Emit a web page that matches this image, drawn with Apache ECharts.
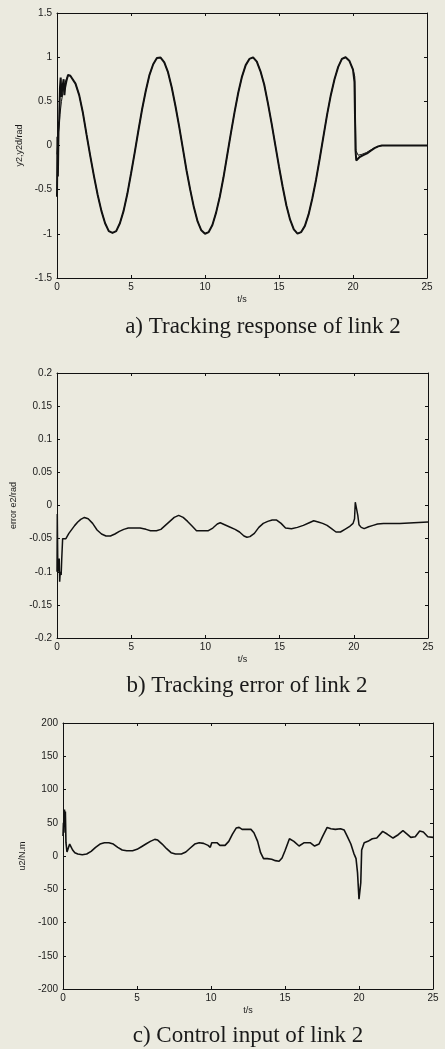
<!DOCTYPE html>
<html>
<head>
<meta charset="utf-8">
<script src="https://cdn.jsdelivr.net/npm/echarts@6/dist/echarts.min.js"></script>
<style>
  html, body { margin: 0; padding: 0; background: #ebeadf; }
  #chart { width: 445px; height: 1049px; }
</style>
</head>
<body>
<div id="chart"></div>
<script>
// ---- Link 2 simulation results (t in seconds) ----

// Shared periodic part of the response, sampled every 0.25 s from t = 1.0 to t = 20.0
const bodyY = [
  0.77, 0.70, 0.57, 0.37, 0.12, -0.12, -0.35, -0.56, -0.74, -0.88, -0.97, -0.99, -0.97,
  -0.88, -0.74, -0.55, -0.32, -0.08, 0.17, 0.41, 0.62, 0.80, 0.92, 0.99, 0.995,
  0.94, 0.83, 0.66, 0.45, 0.22, -0.03, -0.28, -0.50, -0.70, -0.86, -0.96, -0.999,
  -0.98, -0.90, -0.76, -0.58, -0.36, -0.11, 0.14, 0.38, 0.60, 0.78, 0.91, 0.98,
  0.998, 0.95, 0.84, 0.69, 0.48, 0.25, 0.005, -0.24, -0.47, -0.68, -0.84, -0.95,
  -0.997, -0.98, -0.91, -0.78, -0.60, -0.39, -0.15, 0.10, 0.35, 0.57, 0.75, 0.89,
  0.98, 0.999, 0.96, 0.86
];
const bodyT = bodyY.map((_, i) => 1 + i * 0.25);

// Actual output y2: start-up transient and settling after t = 20 s
const y2StartT = [0, 0.03, 0.06, 0.1, 0.15, 0.2, 0.25, 0.3, 0.35, 0.4, 0.45, 0.5, 0.55, 0.65, 0.75, 0.9];
const y2StartV = [-0.58, 0.1, -0.35, 0.15, 0.3, 0.65, 0.77, 0.55, 0.64, 0.66, 0.75, 0.57, 0.66, 0.74, 0.8, 0.79];
const y2EndT = [20.1, 20.17, 20.22, 20.3, 20.45, 20.7, 20.95, 21.2, 21.45, 21.7, 21.95, 25];
const y2EndV = [0.72, -0.05, -0.17, -0.17, -0.13, -0.11, -0.09, -0.06, -0.03, -0.01, 0, 0];

// Desired trajectory y2d
const y2dStartT = [0, 0.1, 0.2, 0.3, 0.45, 0.6, 0.75, 0.9];
const y2dStartV = [-0.1, 0.15, 0.35, 0.5, 0.65, 0.74, 0.79, 0.79];
const y2dEndT = [20.12, 20.2, 20.35, 20.6, 20.9, 21.2, 21.5, 21.8, 22.0, 25];
const y2dEndV = [0.78, -0.06, -0.11, -0.10, -0.08, -0.05, -0.025, -0.005, 0, 0];

// Tracking error e2
const errT = [0, 0.02, 0.05, 0.1, 0.15, 0.18, 0.22, 0.28, 0.32, 0.38, 0.45, 0.6, 0.8, 1.0, 1.2, 1.4, 1.6, 1.85,
  2.1, 2.4, 2.7, 3.0, 3.3, 3.6, 3.9, 4.2, 4.5, 4.8, 5.2, 5.6, 6.0, 6.3, 6.7, 7.0, 7.3, 7.6, 7.9, 8.2, 8.5,
  8.8, 9.1, 9.4, 9.8, 10.2, 10.5, 10.8, 11.0, 11.3, 11.6, 12.0, 12.3, 12.6, 12.8, 13.0, 13.3, 13.6, 13.9,
  14.2, 14.5, 14.8, 15.1, 15.4, 15.8, 16.2, 16.6, 17.0, 17.3, 17.6, 17.9, 18.2, 18.5, 18.8, 19.1, 19.4,
  19.7, 19.95, 20.05, 20.1, 20.15, 20.22, 20.27, 20.35, 20.5, 20.7, 21.0, 21.3, 21.6, 22.0, 23.1, 23.2, 25];
const errV = [-0.1, -0.013, -0.08, -0.1, -0.08, -0.115, -0.1, -0.105, -0.08, -0.05, -0.052, -0.05, -0.042,
  -0.036, -0.03, -0.025, -0.021, -0.018, -0.02, -0.027, -0.037, -0.043, -0.046, -0.046, -0.043, -0.039,
  -0.036, -0.034, -0.034, -0.034, -0.036, -0.038, -0.038, -0.036, -0.03, -0.024, -0.018, -0.015, -0.018,
  -0.024, -0.031, -0.038, -0.038, -0.038, -0.034, -0.028, -0.026, -0.029, -0.032, -0.036, -0.04, -0.046,
  -0.048, -0.047, -0.042, -0.033, -0.027, -0.024, -0.022, -0.022, -0.027, -0.034, -0.035, -0.033, -0.03,
  -0.026, -0.023, -0.025, -0.027, -0.03, -0.035, -0.04, -0.04, -0.036, -0.032, -0.027, -0.02, 0.005,
  0.006, 0.004, -0.015, -0.029, -0.033, -0.035, -0.032, -0.03, -0.028, -0.027, -0.027, -0.025, -0.025];

// Control input u2 (N.m)
const uT = [0, 0.03, 0.06, 0.1, 0.13, 0.16, 0.2, 0.27, 0.33, 0.38, 0.45, 0.55, 0.65, 0.8, 1.0, 1.3, 1.6, 1.9,
  2.2, 2.5, 2.8, 3.1, 3.4, 3.7, 4.0, 4.3, 4.7, 5.0, 5.3, 5.6, 5.9, 6.2, 6.4, 6.7, 7.0, 7.3, 7.6, 8.0, 8.3,
  8.6, 8.9, 9.2, 9.5, 9.8, 9.95, 10.05, 10.4, 10.6, 10.95, 11.2, 11.45, 11.7, 11.9, 12.1, 12.4, 12.7, 12.9,
  13.15, 13.35, 13.55, 13.8, 14.1, 14.35, 14.6, 14.8, 15.0, 15.3, 15.6, 15.95, 16.3, 16.7, 17.0, 17.3,
  17.55, 17.85, 18.1, 18.4, 18.75, 19.0, 19.2, 19.45, 19.65, 19.8, 19.9, 20.0, 20.08, 20.12, 20.18, 20.35,
  20.6, 20.9, 21.2, 21.6, 21.9, 22.3, 22.65, 22.97, 23.25, 23.5, 23.8, 24.1, 24.35, 24.65, 25];
const uV = [30, 50, 35, 70, 55, 67, 20, 6, 4, 8, 18, 17, 9, 5, 3, 2, 3, 7, 13, 18, 20, 20, 18, 13, 9, 8, 8,
  10, 14, 18, 22, 25, 24, 18, 11, 5, 3, 3, 6, 12, 18, 20, 19, 16, 13, 20, 20, 16, 16, 22, 33, 42, 43, 40,
  40, 40, 35, 22, 5, -4, -4, -5, -7, -8, -3, 8, 26, 22, 15, 20, 20, 15, 18, 30, 43, 41, 40, 41, 39, 30, 18,
  4, -4, -25, -65, -62, -40, 9, 20, 22, 26, 27, 37, 33, 27, 32, 38, 33, 28, 29, 37.5, 36, 29, 28];

// Axis tick settings and labels
const tRange = [0, 25], tStep = 5;
const yRanges = [[-1.5, 1.5], [-0.2, 0.2], [-200, 200]];
const ySteps = [0.5, 0.05, 50];
const yNames = ['y2,y2d/rad', 'error e2/rad', 'u2/N.m'];
const xName = 't/s';
const captions = ['a) Tracking response of link 2', 'b) Tracking error of link 2', 'c) Control input of link 2'];

function zip(ts, vs) { return ts.map((t, i) => [t, vs[i]]); }

const y2Data = zip(y2StartT, y2StartV).concat(zip(bodyT, bodyY), zip(y2EndT, y2EndV));
const y2dData = zip(y2dStartT, y2dStartV).concat(zip(bodyT, bodyY), zip(y2dEndT, y2dEndV));
const errData = zip(errT, errV);
const uData = zip(uT, uV);

const INK = '#111';
const tickFont = { fontFamily: 'Liberation Sans, Arial, sans-serif', fontSize: 10, color: '#1a1a1a' };

const gridBoxes = [
  { left: 57, right: 18, top: 13, height: 265 },
  { left: 57, right: 17, top: 373, height: 265 },
  { left: 63, right: 12, top: 723, height: 266 }
];
const yNameGaps = [28, 36, 32];

const xAxes = [], yAxes = [];
gridBoxes.forEach((g, i) => {
  const lineStyle = { axisLine: { show: true, onZero: false, lineStyle: { color: INK, width: 1 } },
                      axisTick: { show: true, inside: true, length: 3, lineStyle: { color: INK } },
                      splitLine: { show: false } };
  xAxes.push(Object.assign({
    type: 'value', gridIndex: i, position: 'bottom', min: tRange[0], max: tRange[1], interval: tStep,
    name: xName, nameLocation: 'middle', nameGap: 17,
    nameTextStyle: { fontFamily: tickFont.fontFamily, fontSize: 9, color: '#1a1a1a' },
    axisLabel: Object.assign({ margin: 4, showMinLabel: true, showMaxLabel: true }, tickFont)
  }, lineStyle));
  xAxes.push(Object.assign({
    type: 'value', gridIndex: i, position: 'top', min: tRange[0], max: tRange[1], interval: tStep,
    axisLabel: { show: false }
  }, lineStyle));
  yAxes.push(Object.assign({
    type: 'value', gridIndex: i, position: 'left', min: yRanges[i][0], max: yRanges[i][1], interval: ySteps[i],
    name: yNames[i], nameLocation: 'middle', nameGap: yNameGaps[i], nameRotate: 90,
    nameTextStyle: { fontFamily: tickFont.fontFamily, fontSize: 9, color: '#1a1a1a' },
    axisLabel: Object.assign({ margin: 5, showMinLabel: true, showMaxLabel: true }, tickFont)
  }, lineStyle));
  yAxes.push(Object.assign({
    type: 'value', gridIndex: i, position: 'right', min: yRanges[i][0], max: yRanges[i][1], interval: ySteps[i],
    axisLabel: { show: false }
  }, lineStyle));
});

function curve(name, data, grid, width) {
  return {
    name, type: 'line', data, xAxisIndex: grid * 2, yAxisIndex: grid * 2,
    showSymbol: false, symbol: 'none', smooth: false, silent: true,
    lineStyle: { color: INK, width }
  };
}

const captionPos = [[263, 327], [247, 686], [248, 1036]];

const chart = echarts.init(document.getElementById('chart'), null, { renderer: 'canvas' });
chart.setOption({
  backgroundColor: '#ebeadf',
  animation: false,
  grid: gridBoxes.map(g => Object.assign({ containLabel: false }, g)),
  xAxis: xAxes,
  yAxis: yAxes,
  series: [
    curve('y2', y2Data, 0, 2),
    curve('y2d', y2dData, 0, 1),
    curve('e2', errData, 1, 1.5),
    curve('u2', uData, 2, 1.6)
  ],
  graphic: captions.map((c, i) => ({
    type: 'text', x: captionPos[i][0], y: captionPos[i][1], silent: true,
    style: { text: c, font: '23px "Liberation Serif", "Times New Roman", serif', fill: '#1a1a1a',
             align: 'center', verticalAlign: 'middle' }
  }))
});
</script>
</body>
</html>
